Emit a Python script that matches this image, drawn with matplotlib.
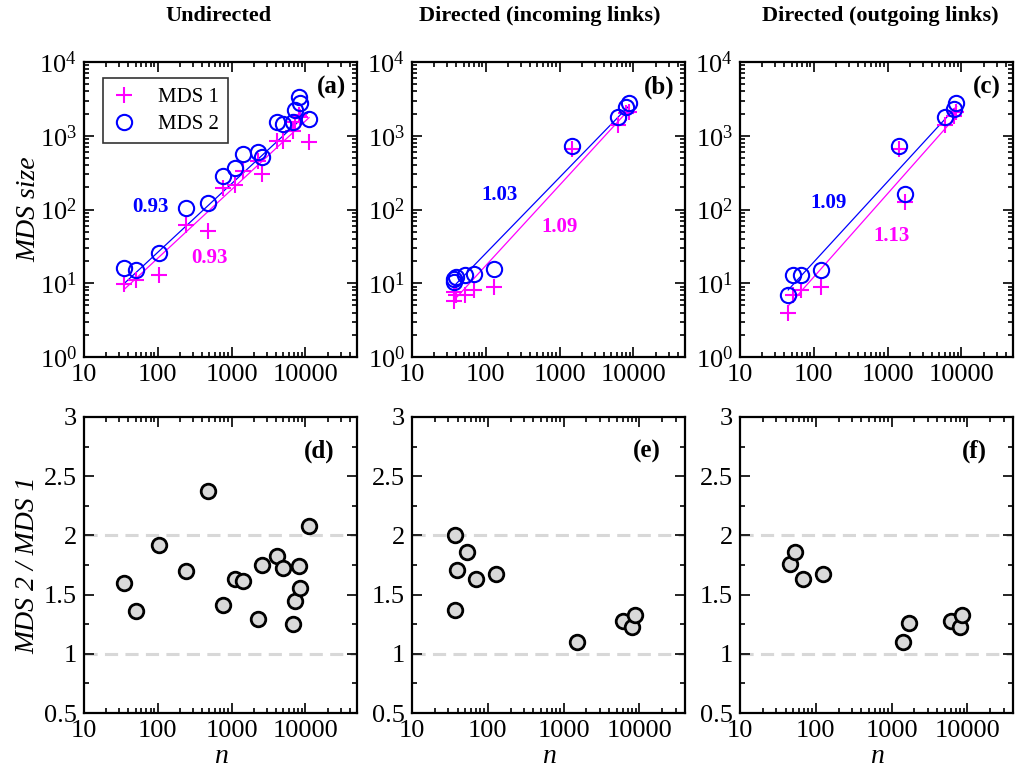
import numpy as np
import matplotlib
matplotlib.use('Agg')
import matplotlib.pyplot as plt
from matplotlib.ticker import LogLocator, LogFormatterMathtext, MultipleLocator, NullFormatter, FixedLocator

plt.rcParams['font.family'] = ['Liberation Serif', 'DejaVu Serif']
plt.rcParams['mathtext.fontset'] = 'custom'
plt.rcParams['mathtext.rm'] = 'Liberation Serif'
plt.rcParams['mathtext.it'] = 'Liberation Serif:italic'
plt.rcParams['mathtext.bf'] = 'Liberation Serif:bold'

# undirected networks
n_und = [35, 50, 103, 244, 485, 775, 1096, 1410, 2300, 2620, 4093, 5000, 6800, 7200, 8300, 8400, 11200]
mds1_und = [9.9, 11.1, 12.9, 62, 51, 195, 216, 335, 450, 305, 850, 840, 1150, 1545, 1940, 1805, 812]
mds2_und = [15.9, 15.1, 25.8, 105, 121, 286, 361, 560, 601, 519, 1520, 1442, 1520, 2234, 3381, 2803, 1686]
ratio_und = [1.6, 1.36, 1.92, 1.70, 2.375, 1.41, 1.634, 1.615, 1.294, 1.75, 1.826, 1.727, 1.249, 1.449, 1.744, 1.553, 2.079]

# directed, incoming links
n_in = [37, 37, 39, 53, 70, 128, 1490, 6120, 8040, 8730]
mds1_in = [5.8, 7.6, 7.0, 7.0, 8.1, 9.0, 660, 1390, 2015, 2070]
mds2_in = [11.5, 10.5, 12.0, 12.9, 13.3, 15.4, 725, 1778, 2477, 2750]
ratio_in = [2.0, 1.37, 1.71, 1.86, 1.63, 1.67, 1.10, 1.28, 1.23, 1.33]

# directed, outgoing links
n_out = [45, 53, 68, 126, 1430, 1720, 6000, 7950, 8570]
mds1_out = [4.0, 6.9, 8.0, 8.9, 660, 125, 1390, 1860, 2070]
mds2_out = [7.0, 12.9, 12.9, 15.0, 725, 162, 1778, 2280, 2750]
ratio_out = [1.76, 1.86, 1.63, 1.67, 1.10, 1.26, 1.28, 1.23, 1.33]

# power-law fits: exponent, log10 prefactor
fit1 = [(0.93, -0.52), (1.09, -0.94), (1.13, -1.175)]
fit2 = [(0.93, -0.44), (1.03, -0.654), (1.09, -0.892)]

titles = ['Undirected', 'Directed (incoming links)', 'Directed (outgoing links)']
title_x = [218, 540, 880]
panel_top = ['(a)', '(b)', '(c)']
panel_bot = ['(d)', '(e)', '(f)']
xmax_bot = [50000, 40000, 40000]

data = [(n_und, mds1_und, mds2_und, ratio_und),
        (n_in, mds1_in, mds2_in, ratio_in),
        (n_out, mds1_out, mds2_out, ratio_out)]

# exponent label positions (axes fraction)
lab2_pos = [(0.242, 0.509), (0.32, 0.549), (0.323, 0.521)]
lab1_pos = [(0.459, 0.335), (0.54, 0.442), (0.556, 0.41)]

W, H = 1023, 771
fig = plt.figure(figsize=(W / 100, H / 100), dpi=100)

lefts = [84, 412, 740]
blue = '#0000ff'
mag = '#ff00ff'

def style_axis(ax):
    for s in ax.spines.values():
        s.set_linewidth(1.6)
    ax.tick_params(which='both', direction='in', top=True, right=True, labelsize=19, width=1.2)
    ax.tick_params(which='major', length=7, pad=5)
    ax.tick_params(which='minor', length=3.5)

for i in range(3):
    n, m1, m2, r = data[i]
    # top panel
    ax = fig.add_axes([lefts[i] / W, 1 - 357 / H, 273 / W, 295 / H])
    ax.set_xscale('log')
    ax.set_yscale('log')
    ax.set_xlim(10, 50000)
    ax.set_ylim(1, 10000)
    nn = np.array([min(n), max(n)], dtype=float)
    a1, b1 = fit1[i]
    a2, b2 = fit2[i]
    ax.plot(nn, 10 ** (b1 + a1 * np.log10(nn)), color=mag, lw=0.9)
    ax.plot(nn, 10 ** (b2 + a2 * np.log10(nn)), color=blue, lw=0.9)
    ax.plot(n, m1, '+', color=mag, ms=11, mew=1.5, label='MDS 1')
    ax.plot(n, m2, 'o', mfc='none', mec=blue, ms=11, mew=1.5, label='MDS 2')
    ax.text(*lab2_pos[i], '%.2f' % a2, transform=ax.transAxes, color=blue,
            fontsize=15, fontweight='bold', ha='center', va='center')
    ax.text(*lab1_pos[i], '%.2f' % a1, transform=ax.transAxes, color=mag,
            fontsize=15, fontweight='bold', ha='center', va='center')
    ax.text(0.905, 0.915, panel_top[i], transform=ax.transAxes, fontsize=18,
            fontweight='bold', ha='center', va='center')
    ax.xaxis.set_major_locator(FixedLocator([10, 100, 1000, 10000]))
    ax.set_xticklabels(['10', '100', '1000', '10000'])
    ax.xaxis.set_minor_locator(LogLocator(base=10, subs=np.arange(2, 10), numticks=20))
    ax.xaxis.set_minor_formatter(NullFormatter())
    ax.yaxis.set_major_locator(LogLocator(base=10, numticks=10))
    ax.yaxis.set_major_formatter(LogFormatterMathtext())
    ax.yaxis.set_minor_locator(LogLocator(base=10, subs=np.arange(2, 10), numticks=20))
    ax.yaxis.set_minor_formatter(NullFormatter())
    style_axis(ax)
    if i == 0:
        ax.set_ylabel('MDS size', fontsize=20, fontstyle='italic')
        ax.yaxis.set_label_coords(-0.155, 0.5)
        leg = ax.legend(loc='upper left', bbox_to_anchor=(0.068, 0.945), fontsize=15,
                        frameon=True, fancybox=False, edgecolor='black', borderaxespad=0,
                        handlelength=1.2, handletextpad=1.0, borderpad=0.45, labelspacing=0.35)
        leg.get_frame().set_linewidth(1.2)

    fig.text(title_x[i] / W, 1 - 16 / H, titles[i], fontsize=16, fontweight='bold',
             ha='center', va='center')

    # bottom panel
    axb = fig.add_axes([lefts[i] / W, 58 / H, 273 / W, 296 / H])
    axb.set_xscale('log')
    axb.set_xlim(10, xmax_bot[i])
    axb.set_ylim(0.5, 3)
    for yl in [1, 2]:
        axb.axhline(yl, color='#d8d8d8', lw=2.2, ls=(0, (4.3, 2.4)), zorder=1)
    axb.plot(n, r, 'o', mfc='#d9d9d9', mec='black', ms=10.5, mew=2, ls='none', zorder=3)
    axb.text(0.86, 0.885, panel_bot[i], transform=axb.transAxes, fontsize=18,
             fontweight='bold', ha='center', va='center')
    axb.xaxis.set_major_locator(FixedLocator([10, 100, 1000, 10000]))
    axb.set_xticklabels(['10', '100', '1000', '10000'])
    axb.xaxis.set_minor_locator(LogLocator(base=10, subs=np.arange(2, 10), numticks=20))
    axb.xaxis.set_minor_formatter(NullFormatter())
    axb.yaxis.set_minor_locator(MultipleLocator(0.25))
    axb.set_yticks([0.5, 1, 1.5, 2, 2.5, 3])
    axb.set_yticklabels(['0.5', '1', '1.5', '2', '2.5', '3'])
    style_axis(axb)
    axb.set_xlabel('n', fontsize=20, fontstyle='italic')
    axb.xaxis.set_label_coords(0.5, -0.105)
    if i == 0:
        axb.set_ylabel('MDS 2 / MDS 1', fontsize=20, fontstyle='italic')
        axb.yaxis.set_label_coords(-0.16, 0.5)

fig.savefig('out.png', dpi=100)
